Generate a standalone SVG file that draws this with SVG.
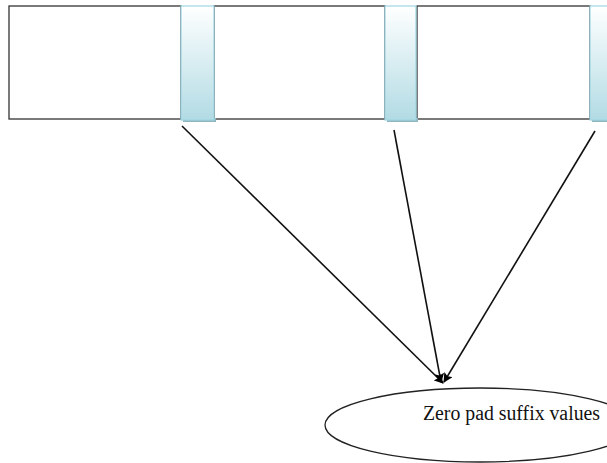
<svg xmlns="http://www.w3.org/2000/svg" width="607" height="463" viewBox="0 0 607 463">
<defs>
<linearGradient id="bar" x1="0" y1="0" x2="0" y2="1">
<stop offset="0" stop-color="#ffffff"/>
<stop offset="1" stop-color="#b2dbe4"/>
</linearGradient>
<marker id="arr" viewBox="0 0 10 10" refX="9" refY="5" markerWidth="6" markerHeight="6" orient="auto" markerUnits="strokeWidth">
<path d="M0,0 L10,5 L0,10 L2,5 z" fill="#000"/>
</marker>
<style>
.box{fill:#fff;stroke:#333;stroke-width:1.3}
.bar{fill:url(#bar);stroke:#9fd6e3;stroke-width:1.2}
.shadow{fill:#8fb6be}
.edge{stroke:#111;stroke-width:1.6;fill:none;marker-end:url(#arr)}
.ell{fill:#fff;stroke:#222;stroke-width:1.3}
.lbl{font-family:"Liberation Serif","Times New Roman",serif;font-size:20px;fill:#111}
</style>
</defs>
<rect width="607" height="463" fill="#fff"/>
<g id="segments">
<rect id="box1" class="box" x="9" y="6" width="172" height="113"/>
<rect id="box2" class="box" x="214" y="6" width="171" height="113"/>
<rect id="box3" class="box" x="417" y="6" width="173" height="113"/>
</g>
<g id="bar1">
<rect class="shadow" x="183" y="118" width="33" height="4"/>
<rect class="bar" x="181" y="6" width="33" height="114"/>
</g>
<g id="bar2">
<rect class="shadow" x="387" y="118" width="31" height="4"/>
<rect class="bar" x="385" y="6" width="31" height="114"/>
</g>
<g id="bar3">
<rect class="shadow" x="592" y="118" width="20" height="4"/>
<rect class="bar" x="590" y="6" width="22" height="114"/>
</g>
<g id="connectors">
<line class="edge" x1="182" y1="126" x2="443" y2="383"/>
<line class="edge" x1="394" y1="130" x2="441" y2="382"/>
<line class="edge" x1="595" y1="131" x2="444" y2="382"/>
</g>
<g id="target">
<ellipse class="ell" cx="480" cy="425" rx="155" ry="37"/>
<text class="lbl" x="423" y="420" textLength="177" lengthAdjust="spacingAndGlyphs">Zero pad suffix values</text>
</g>
</svg>
